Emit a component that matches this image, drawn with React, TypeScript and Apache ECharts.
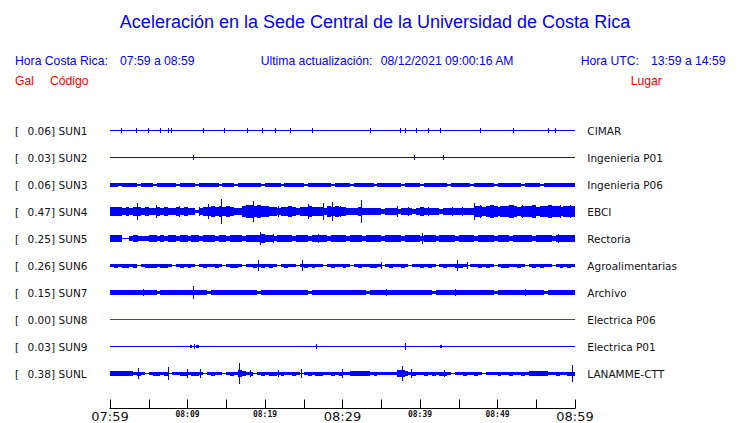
import React, { useEffect, useRef } from "react";
import * as echarts from "echarts";

const TITLE = "Aceleración en la Sede Central de la Universidad de Costa Rica";
const HORA_CR_LABEL = "Hora Costa Rica:";
const HORA_CR = "07:59 a 08:59";
const ULTIMA_LABEL = "Ultima actualización:";
const ULTIMA = "08/12/2021 09:00:16 AM";
const HORA_UTC_LABEL = "Hora UTC:";
const HORA_UTC = "13:59 a 14:59";

const codes = ["SUN1", "SUN2", "SUN3", "SUN4", "SUN5", "SUN6", "SUN7", "SUN8", "SUN9", "SUNL"];
const peaks = [0.06, 0.03, 0.06, 0.47, 0.25, 0.26, 0.15, 0.0, 0.03, 0.38];
const places = [
  "CIMAR", "Ingenieria P01", "Ingenieria P06", "EBCI", "Rectoria",
  "Agroalimentarias", "Archivo", "Electrica P06", "Electrica P01", "LANAMME-CTT",
];
const traceColors = ["#0000ff", "#0000ff", "#0000ff", "#0000ff", "#0000ff", "#0000ff", "#0000ff", "#ff0000", "#0000ff", "#0000ff"];

// time axis: minutes after 07:59
const SPAN = 60;
const tickLabels = ["07:59", "08:09", "08:19", "08:29", "08:39", "08:49", "08:59"];

// envelope half-amplitudes (display units), one value per half minute
const envSUN3 = [
  1.5,1.5,1,1.5,1.5,1.5,1.5,0.5,1.5,1.5, 1.5,0.5,1.5,1.5,1.5,1.5,1.5,0.5,1.5,1.5, 1.5,1.5,0.5,1.5,1.5,1.5,1.5,1.5,0.5,1.5, 1.5,1.5,0.5,1.5,1.5,1.5,1.5,1.5,1.5,0.5,
  1.5,1.5,1.5,1.5,0.5,1.5,1.5,1.5,1.5,1.5, 0.5,1.5,1.5,1.5,1.5,1.5,1.5,0.5,1.5,1.5, 1.5,1.5,0.5,1.5,1.5,1.5,1.5,1.5,0.5,1.5, 1.5,1.5,1.5,1.5,1.5,0.5,1.5,1.5,1.5,1.5,
  0.5,1.5,1.5,1.5,1.5,1.5,1.5,0.5,1.5,1.5, 1.5,1.5,1.5,0.5,1.5,1.5,1.5,1.5,1.5,0.5, 1.5,1.5,1.5,1.5,1.5,1.5,0.5,1.5,1.5,1.5, 1.5,0.5,1.5,1.5,1.5,1.5,1.5,1.5,1.5,1.5,
];
const envSUN4 = [
  4,4,4,3,4,3,4,4,3,4, 3,3,4,3,4,3,3,4,3,4, 3,3,1,3,4,4,5,4,5,4, 5,4,3,3,5,6,6,5,6,5,
  5,4,4,3,4,4,5,4,3,4, 4,5,4,4,4,3,5,4,5,4, 4,3,3,3,4,3,3,3,3,3, 2,3,3,3,2,3,3,3,2,3,
  4,3,3,3,3,2,3,3,3,3, 3,3,3,3,5,5,4,5,6,5, 4,5,5,6,5,4,5,5,5,6, 4,5,5,6,5,5,4,5,5,5,
];
const envSUN5 = [
  3,3,3,0,0,2,3,2,2,2, 3,3,2,3,2,3,3,2,3,3, 2,3,3,2,3,3,3,2,3,3, 2,3,3,3,2,3,3,3,3,4,
  3,3,2,3,3,3,3,2,3,3, 3,2,3,3,3,3,2,3,3,3, 3,2,3,3,3,2,3,3,3,3, 2,3,3,3,3,2,3,3,3,3,
  2,3,3,3,2,3,3,3,3,2, 3,3,3,3,2,3,3,3,3,2, 3,3,3,2,3,3,3,3,3,2, 3,3,3,3,2,3,3,3,3,3,
];
const envSUN6 = [
  1,1.5,1,1.5,1.5,1,1.5,0,1,1.5, 1.5,1.5,1,1.5,1.5,1,0,1,1.5,1, 1.5,1,0,1,1.5,1,1,1.5,1,0, 1,1.5,1.5,1,0,1,1,1.5,1,1.5,
  1,1.5,1,0,1,1.5,1,1,0,1, 1.5,1,1.5,1,1,0,1,1.5,1,1, 1.5,1,0,1,1.5,1,1,1.5,1.5,1, 0,1,1.5,1,1,1.5,1,0,1,1,
  1.5,1,1.5,1,0,1,1.5,1,1,1.5, 1.5,1,0,1,1,1.5,1,1.5,1,0, 1,1.5,1.5,1,1,1.5,1,0,1,1.5, 1,1.5,1,1,0,1,1.5,1,1.5,1,
];
const envSUN7 = [
  2,2,2,2,2,2,2,2,2,2, 2,2,1,2,2,2,2,2,2,2, 2,2,2,2,2,1,2,2,2,2, 2,2,2,2,2,2,2,2,1,2,
  2,2,2,2,2,2,2,2,2,2, 2,1,2,2,2,2,2,2,2,2, 2,2,2,2,2,2,1,2,2,2, 2,2,2,2,2,2,2,2,2,2,
  2,2,2,1,2,2,2,2,2,2, 2,2,2,2,2,2,2,2,2,1, 2,2,2,2,2,2,2,2,2,2, 2,2,1,2,2,2,2,2,2,2,
];
const envSUNL = [
  2,2,2,2,2,2,1,1.5,1,0, 1,1.5,1.5,1,1.5,0,1,1,1.5,1.5, 1,1.5,1.5,1,0,1,1.5,1,1,0, 1,1.5,1,3,2,1,1.5,0,1,1.5,
  1,1.5,1.5,1,1.5,1,1,1.5,1,0, 1,1.5,1,1.5,1.5,1,1,1.5,1,1.5, 1,1,2,2,2,2,2,1,1.5,1, 1,1,1,1,3,3,2,1,1.5,1,
  1,1.5,1,1.5,1,1.5,1.5,1,0,1, 1,1.5,1,1,1.5,1,0,1,1,1, 1.5,1,1,1.5,1,1,1.5,1,2,2, 2,2,2,1,1,1.5,1,1,1.5,1.5,
];

// spikes: [minute, half-amplitude, duration in minutes (optional)]
const spkSUN1 = [
  [1.42, 2], [3.35, 2], [4.9, 2], [6.45, 2], [7.48, 2], [7.87, 2], [12.0, 2], [14.71, 2],
  [17.68, 2], [19.61, 2], [21.29, 2], [23.23, 2], [26.06, 2], [33.55, 2], [37.42, 2],
  [38.06, 2], [39.48, 2], [41.03, 2], [42.58, 2], [47.74, 2], [52.0, 2], [56.52, 2], [57.42, 2],
];
const spkSUN2 = [[10.71, 2], [39.23, 2], [42.97, 2]];
const spkSUN3: number[][] = [];
const spkSUN4 = [
  [3.52, 8], [5.94, 6], [8.9, 5], [11.45, 4], [12.68, 7], [14.32, 12], [15.26, 5], [18.49, 10],
  [21.72, 5], [23.23, 5], [25.59, 7], [27.45, 8], [28.61, 9], [29.68, 5], [32.35, 11], [36.99, 5],
  [38.49, 4], [40.99, 4], [44.09, 4], [45.38, 4], [47.01, 8], [47.74, 6], [49.03, 6], [50.32, 5],
  [52.04, 6], [53.12, 6], [54.62, 6], [56.55, 5], [58.06, 6], [59.35, 6],
];
const spkSUN5 = [[3.48, 3], [19.35, 6], [21.03, 4], [26.84, 4], [40.22, 5], [50.32, 3], [57.81, 4]];
const spkSUN6 = [[19.1, 5], [24.77, 5], [34.97, 3], [44.77, 5], [46.06, 3]];
const spkSUN7 = [[4.26, 3], [10.71, 6], [35.6, 3], [44.5, 3], [53.5, 3]];
const spkSUN8: number[][] = [];
const spkSUN9 = [[10.3, 1, 0.3], [10.8, 2], [11.1, 1, 0.4], [26.6, 2], [38.1, 3], [42.6, 1, 0.3]];
const spkSUNL = [
  [0.05, 2], [3.61, 5], [7.48, 6], [9.94, 4], [11.61, 4], [16.65, 10], [18.06, 3], [21.68, 3],
  [24.65, 4], [29.94, 4], [37.68, 7], [38.84, 4], [43.1, 3], [59.6, 8],
];

const envelopes: (number[] | null)[] = [null, null, envSUN3, envSUN4, envSUN5, envSUN6, envSUN7, null, null, envSUNL];
const spikes: number[][][] = [spkSUN1, spkSUN2, spkSUN3, spkSUN4, spkSUN5, spkSUN6, spkSUN7, spkSUN8, spkSUN9, spkSUNL];

const ROW = 27;

function buildItems(env: number[] | null, spk: number[][], row: number) {
  const y = row * ROW;
  const items: number[][] = [[0, y, 0, SPAN]];
  if (env) {
    const w = SPAN / env.length;
    env.forEach((a, i) => {
      if (a > 0) items.push([i * w, y, a, (i + 1) * w]);
    });
  }
  spk.forEach((s) => items.push([s[0], y, s[1], s[0] + (s[2] || 0)]));
  return items;
}

const HEAD_FONT = "12.2px 'Liberation Sans', Arial, Helvetica, sans-serif";
const LABEL_FONT = "10.5px 'DejaVu Sans', sans-serif";

function txt(x: number, y: number, text: string, font: string, fill: string, align = "left") {
  return {
    type: "text",
    x,
    y,
    silent: true,
    style: { text, font, fill, align, verticalAlign: "middle", textAlign: align, textVerticalAlign: "middle" },
  };
}

export default function App() {
  const ref = useRef<HTMLDivElement>(null);
  useEffect(() => {
    if (!ref.current) return;
    const chart = echarts.init(ref.current, null, { renderer: "svg" });

    const series = codes.map((c, k) => {
      const color = traceColors[k];
      return {
        type: "custom",
        name: c,
        coordinateSystem: "cartesian2d",
        encode: { x: [0, 3], y: 1 },
        silent: true,
        data: buildItems(envelopes[k], spikes[k], k),
        renderItem: (_p: any, api: any) => {
          const m0 = api.value(0);
          const yv = api.value(1);
          const amp = api.value(2);
          const m1 = api.value(3);
          const c0 = api.coord([m0, yv]);
          const c1 = api.coord([m1, yv]);
          const ct = api.coord([m0, yv - amp]);
          const x0 = Math.round(c0[0]);
          const w = Math.max(1, Math.round(c1[0]) - x0);
          const yc = Math.round(c0[1]);
          const hh = Math.round(2 * Math.abs(c0[1] - ct[1]));
          return {
            type: "rect",
            shape: { x: x0, y: yc - Math.floor(hh / 2), width: w, height: hh + 1 },
            style: { fill: color },
          };
        },
      };
    });

    const graphic: any[] = [
      txt(375, 22, TITLE, "18px 'Liberation Sans', Arial, Helvetica, sans-serif", "#0000ff", "center"),
      txt(15, 61, HORA_CR_LABEL, HEAD_FONT, "#0000ff"),
      txt(120, 61, HORA_CR, HEAD_FONT, "#0000ff"),
      txt(260.7, 61, ULTIMA_LABEL, HEAD_FONT, "#0000ff"),
      txt(380.7, 61, ULTIMA, HEAD_FONT, "#0000ff"),
      txt(580.7, 61, HORA_UTC_LABEL, HEAD_FONT, "#0000ff"),
      txt(651, 61, HORA_UTC, HEAD_FONT, "#0000ff"),
      txt(15, 81, "Gal", HEAD_FONT, "#ff0000"),
      txt(50, 81, "Código", HEAD_FONT, "#ff0000"),
      txt(630.7, 81, "Lugar", HEAD_FONT, "#ff0000"),
    ];
    codes.forEach((c, k) => {
      const y = 130.5 + k * ROW;
      graphic.push(txt(15, y, "[", LABEL_FONT, "#111"));
      graphic.push(txt(55, y, peaks[k].toFixed(2) + "]", LABEL_FONT, "#111", "right"));
      graphic.push(txt(58.6, y, c, LABEL_FONT, "#111"));
      graphic.push(txt(587.3, y, places[k], LABEL_FONT, "#111"));
    });

    chart.setOption({
      animation: false,
      backgroundColor: "#ffffff",
      grid: { left: 110, right: 165, top: 103, bottom: 14, containLabel: false },
      xAxis: {
        type: "value",
        min: 0,
        max: SPAN,
        interval: 5,
        splitLine: { show: false },
        axisLine: { onZero: false, lineStyle: { color: "#000", width: 1 } },
        axisTick: { inside: true, length: 9, lineStyle: { color: "#000", width: 1 } },
        axisLabel: {
          showMinLabel: true,
          showMaxLabel: true,
          margin: 1,
          color: "#111",
          formatter: (v: number) => {
            const r = Math.round(v);
            if (r % 10 !== 0) return "";
            const lab = tickLabels[r / 10];
            return r % 30 === 0 ? `{b|${lab}}` : `{s|${lab}}`;
          },
          rich: {
            b: { fontFamily: "'DejaVu Sans', sans-serif", fontSize: 13, lineHeight: 14, color: "#111" },
            s: { fontFamily: "'DejaVu Sans Mono', monospace", fontSize: 8, fontWeight: "bold", lineHeight: 10, color: "#111" },
          },
        },
      },
      yAxis: {
        type: "value",
        min: -ROW,
        max: ROW * 10 + 9,
        inverse: true,
        show: false,
      },
      graphic,
      series,
    });
    return () => chart.dispose();
  }, []);
  return (
    <div
      ref={ref}
      style={{ position: "fixed", left: 0, top: 0, width: 740, height: 423, background: "#fff" }}
    />
  );
}
